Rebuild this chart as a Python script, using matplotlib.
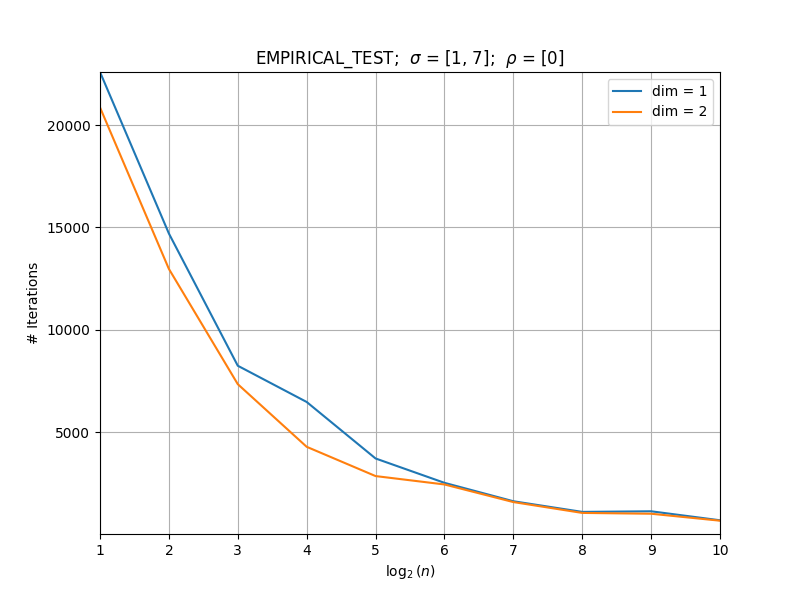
import matplotlib
matplotlib.use("Agg")
import matplotlib.pyplot as plt

log_n = [1, 2, 3, 4, 5, 6, 7, 8, 9, 10]
iters_dim1 = [22590, 14700, 8240, 6470, 3710, 2520, 1620, 1100, 1130, 690]
iters_dim2 = [20860, 12970, 7340, 4280, 2850, 2440, 1580, 1050, 1010, 670]

fig = plt.figure(figsize=(8, 6), dpi=100)
plt.plot(log_n, iters_dim1, label="dim = 1")
plt.plot(log_n, iters_dim2, label="dim = 2")
plt.title(r"EMPIRICAL_TEST;  $\sigma$ = [1, 7];  $\rho$ = [0]")
plt.xlabel(r"$\log_2(n)$")
plt.ylabel("# Iterations")
plt.xlim(1, 10)
plt.ylim(20, max(iters_dim1))
plt.grid(True)
plt.legend(loc="upper right")
plt.savefig("out.png")
